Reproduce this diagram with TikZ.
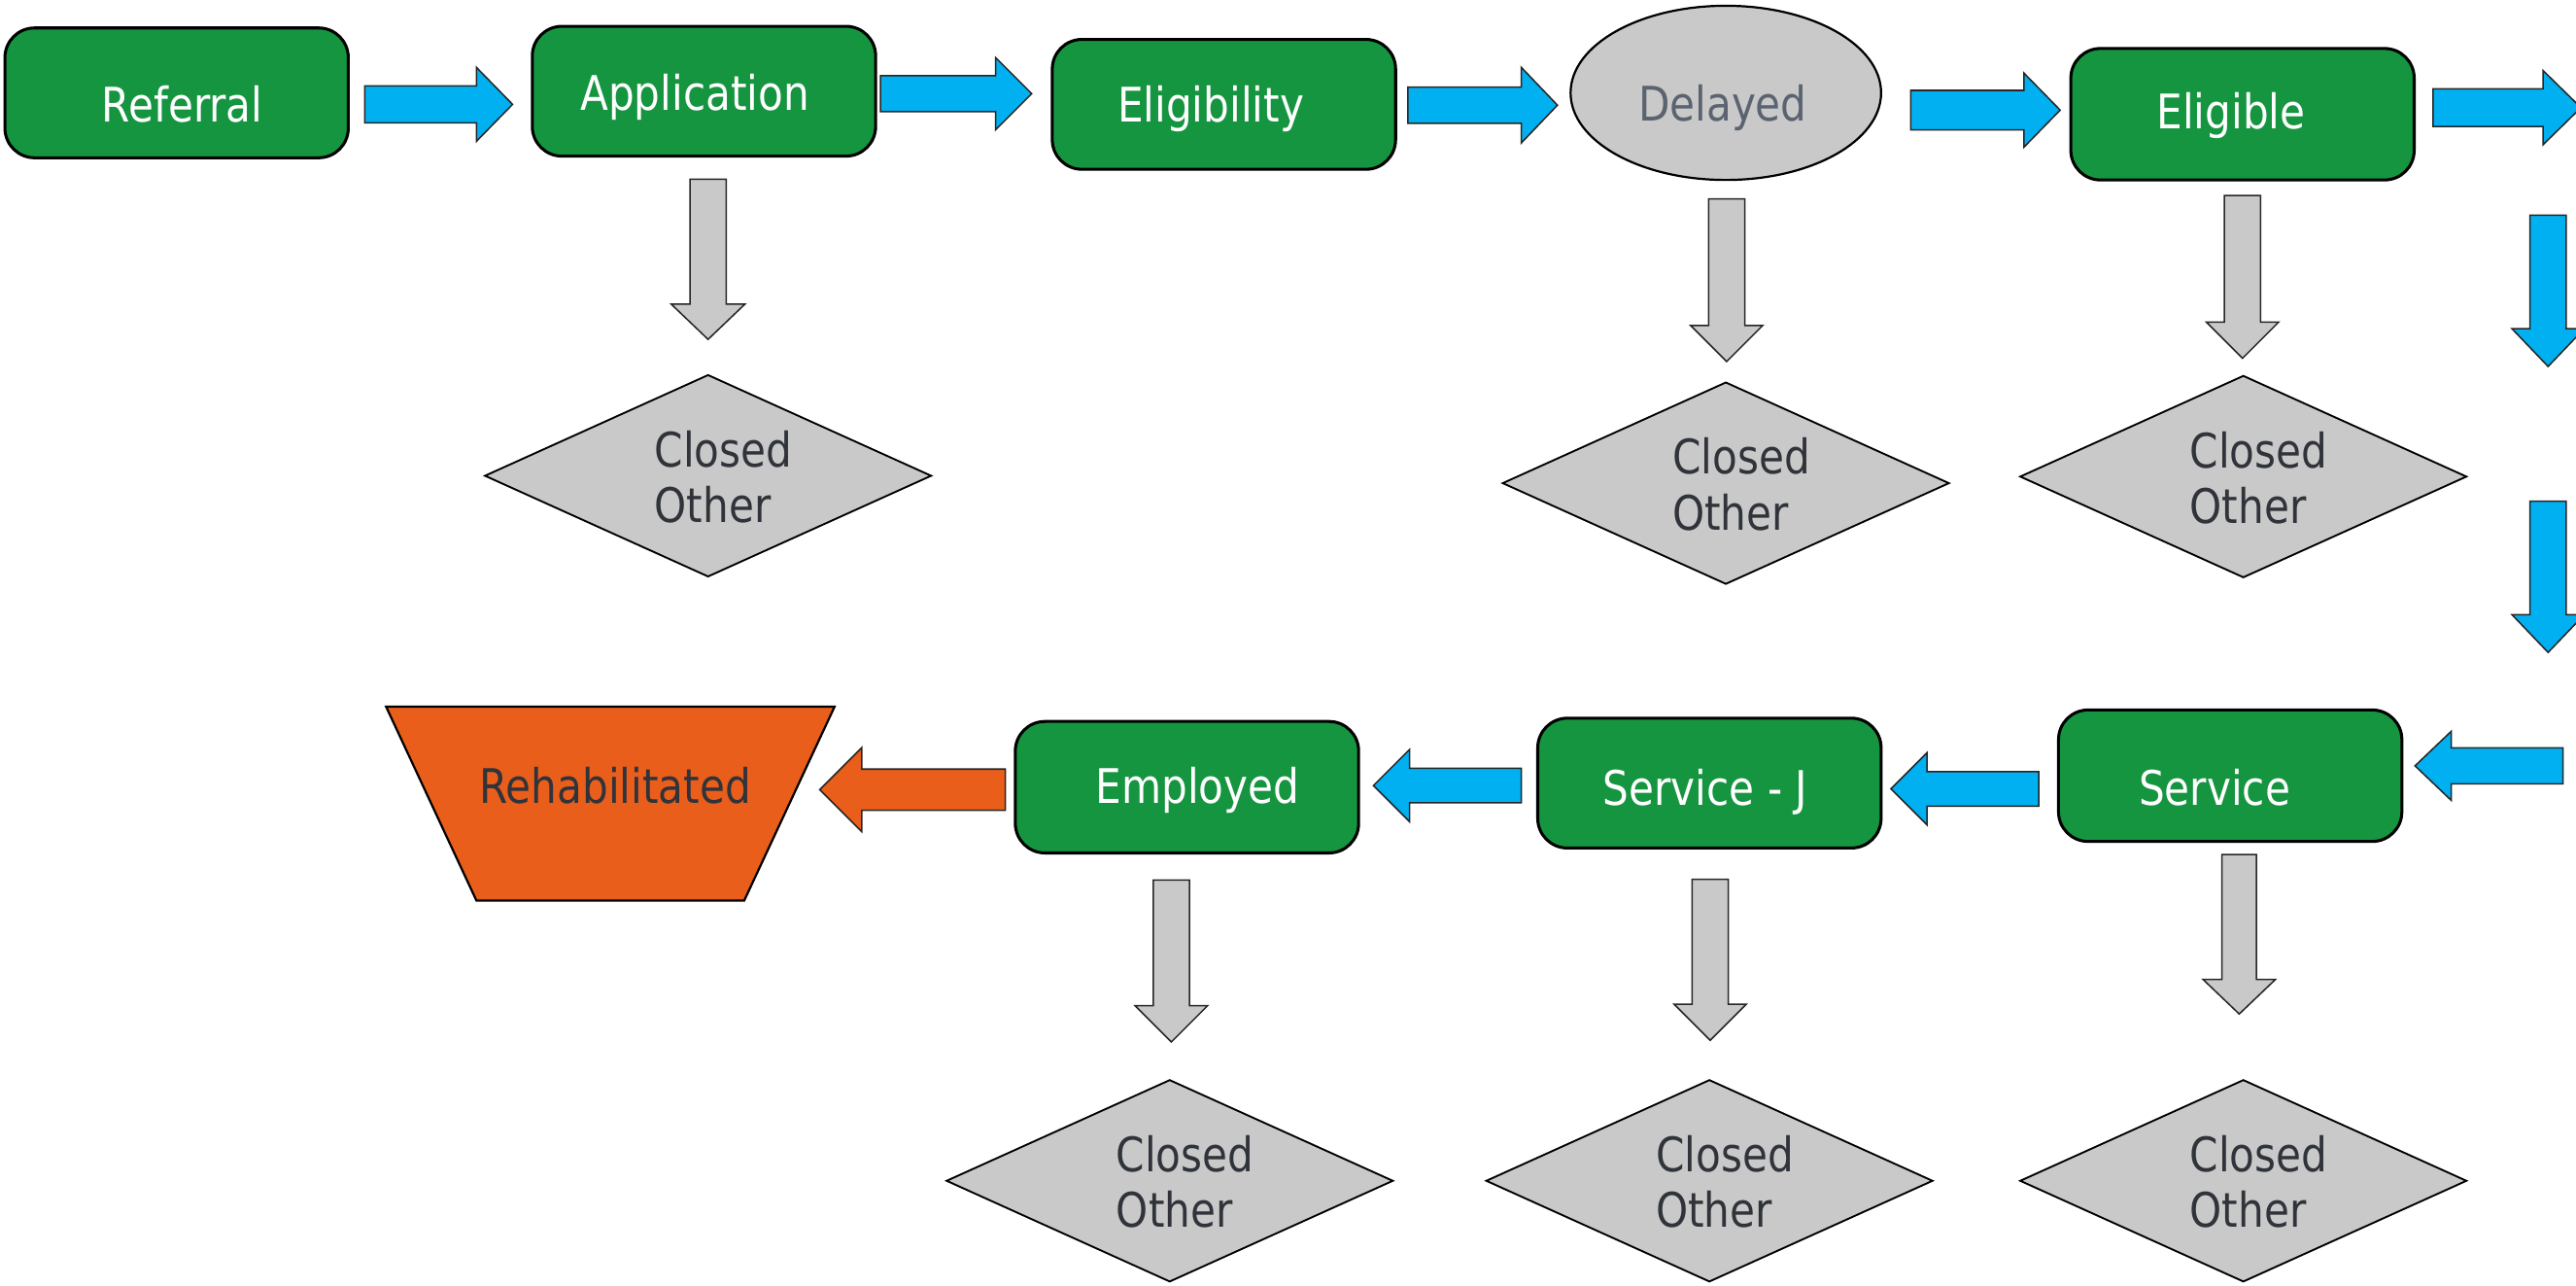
\documentclass[tikz,border=0pt]{standalone}
\usepackage{fontspec}
\setmainfont[FakeStretch=0.86]{DejaVu Sans}
\usetikzlibrary{shapes.geometric}
\definecolor{boxgreen}{HTML}{169540}
\definecolor{arrblue}{HTML}{00B0F0}
\definecolor{boxgray}{HTML}{C8C9C8}
\definecolor{rehab}{HTML}{E95E1A}
\definecolor{darktext}{HTML}{30333A}
\definecolor{slatetext}{HTML}{5C6370}
\tikzset{
  stagebox/.style={draw=black, line width=1.8pt, fill=boxgreen, rounded corners=18pt,
    minimum width=209pt, minimum height=79pt, inner sep=0pt},
  lbl/.style={font=\fontsize{29}{34}\selectfont, text=white, inner sep=0pt, anchor=base},
  dlbl/.style={font=\fontsize{29}{34}\selectfont, text=darktext, inner sep=0pt, anchor=base west, align=left},
  closeddia/.style={diamond, draw=black, line width=1.1pt, fill=boxgray, aspect=2.2,
    minimum width=272pt, minimum height=123pt, inner sep=0pt},
  bluearr/.style={draw=black!85, fill=arrblue, line width=0.9pt},
  grayarr/.style={draw=black!85, fill=boxgray, line width=0.9pt},
  orangearr/.style={draw=black!85, fill=rehab, line width=0.9pt},
  pics/barrow/.style n args={5}{code={%
    \draw[#5] (0,-#3) -- ({#1-#2},-#3) -- ({#1-#2},-#4) -- (#1,0) -- ({#1-#2},#4) -- ({#1-#2},#3) -- (0,#3) -- cycle;}}
}
\begin{document}
\begin{tikzpicture}[x=1pt,y=1pt]
\useasboundingbox (0,0) rectangle (1568,-782);
\clip (0,0) rectangle (1568,-782);
\fill[white] (0,0) rectangle (1568,-782);

% green stage boxes
\node[stagebox] (ref) at (107.5,-56.5) {};
\node[stagebox] (app) at (428.5,-55.5) {};
\node[stagebox] (elig) at (745,-63.5) {};
\node[stagebox, minimum height=80pt] (eligible) at (1365,-69.5) {};
\node[stagebox, minimum height=80pt] (service) at (1357.5,-472) {};
\node[stagebox] (servj) at (1040.5,-476.5) {};
\node[stagebox, minimum height=80pt] (empl) at (722.5,-479) {};
\node[ellipse, draw=black, line width=1.3pt, fill=boxgray, minimum width=189pt, minimum height=106pt, inner sep=0pt] (delayed) at (1050.5,-56.5) {};

% texts
\node[lbl] (tref) at (111,-74) {Referral};
\node[lbl] (tapp) at (423,-67.3) {Application};
\node[lbl] (telig) at (737,-74) {Eligibility};
\node[lbl, text=slatetext] (tdel) at (1048.6,-73.4) {Delayed};
\node[lbl] (teligible) at (1358,-78.6) {Eligible};
\node[lbl] (tserv) at (1348,-490) {Service};
\node[lbl] (tservj) at (1038,-490) {Service - J};
\node[lbl] (templ) at (729,-489) {Employed};

% rehabilitated
\draw[draw=black, line width=1.3pt, fill=rehab] (235,-430) -- (508,-430) -- (453,-548) -- (290,-548) -- cycle;
\node[lbl, text=darktext] (trehab) at (374.5,-489) {Rehabilitated};

% closed-other diamonds
\node[closeddia] (c1) at (431,-289.5) {};
\node[closeddia] (c2) at (1050.5,-294) {};
\node[closeddia] (c3) at (1365.5,-290) {};
\node[closeddia] (c4) at (712,-718.5) {};
\node[closeddia] (c5) at (1040.5,-718.5) {};
\node[closeddia] (c6) at (1365.5,-718.5) {};
\foreach \n in {c1,c2,c3,c4,c5,c6}{
  \node[dlbl] (t\n) at ([xshift=-32.7pt,yshift=-28.5pt]\n.center) {Closed\\Other};
}

% blue arrows
\pic[rotate=0] at (222,-63.5) {barrow={90}{22}{11.2}{22.5}{bluearr}};
\pic[rotate=0] at (536,-57) {barrow={92}{22}{11}{22}{bluearr}};
\pic[rotate=0] at (857,-64) {barrow={91}{22}{11}{23}{bluearr}};
\pic[rotate=0] at (1163,-67) {barrow={91}{22}{12}{22.5}{bluearr}};
\pic[rotate=0] at (1481,-65.5) {barrow={90}{23}{11.5}{22.5}{bluearr}};
\pic[rotate=-90] at (1551,-131) {barrow={92}{23}{11}{22}{bluearr}};
\pic[rotate=-90] at (1551,-305) {barrow={92}{23}{11}{22}{bluearr}};
\pic[rotate=180] at (1560,-466) {barrow={90}{22}{11}{21}{bluearr}};
\pic[rotate=180] at (1241,-480) {barrow={90}{22}{10.5}{22}{bluearr}};
\pic[rotate=180] at (926,-478) {barrow={90}{22}{10.5}{22}{bluearr}};
% orange arrow
\pic[rotate=180] at (612,-480.5) {barrow={113}{25.5}{12.5}{25.5}{orangearr}};
% gray arrows
\pic[rotate=-90] at (431,-109) {barrow={97.5}{21.5}{11}{22.5}{grayarr}};
\pic[rotate=-90] at (1051,-121) {barrow={99}{22}{11}{22}{grayarr}};
\pic[rotate=-90] at (1365,-119) {barrow={99}{22}{11}{22}{grayarr}};
\pic[rotate=-90] at (713,-535.5) {barrow={98.5}{22}{11}{22}{grayarr}};
\pic[rotate=-90] at (1041,-535) {barrow={98}{22}{11}{22}{grayarr}};
\pic[rotate=-90] at (1363,-520) {barrow={97}{21}{10.5}{22}{grayarr}};
\end{tikzpicture}
\end{document}
